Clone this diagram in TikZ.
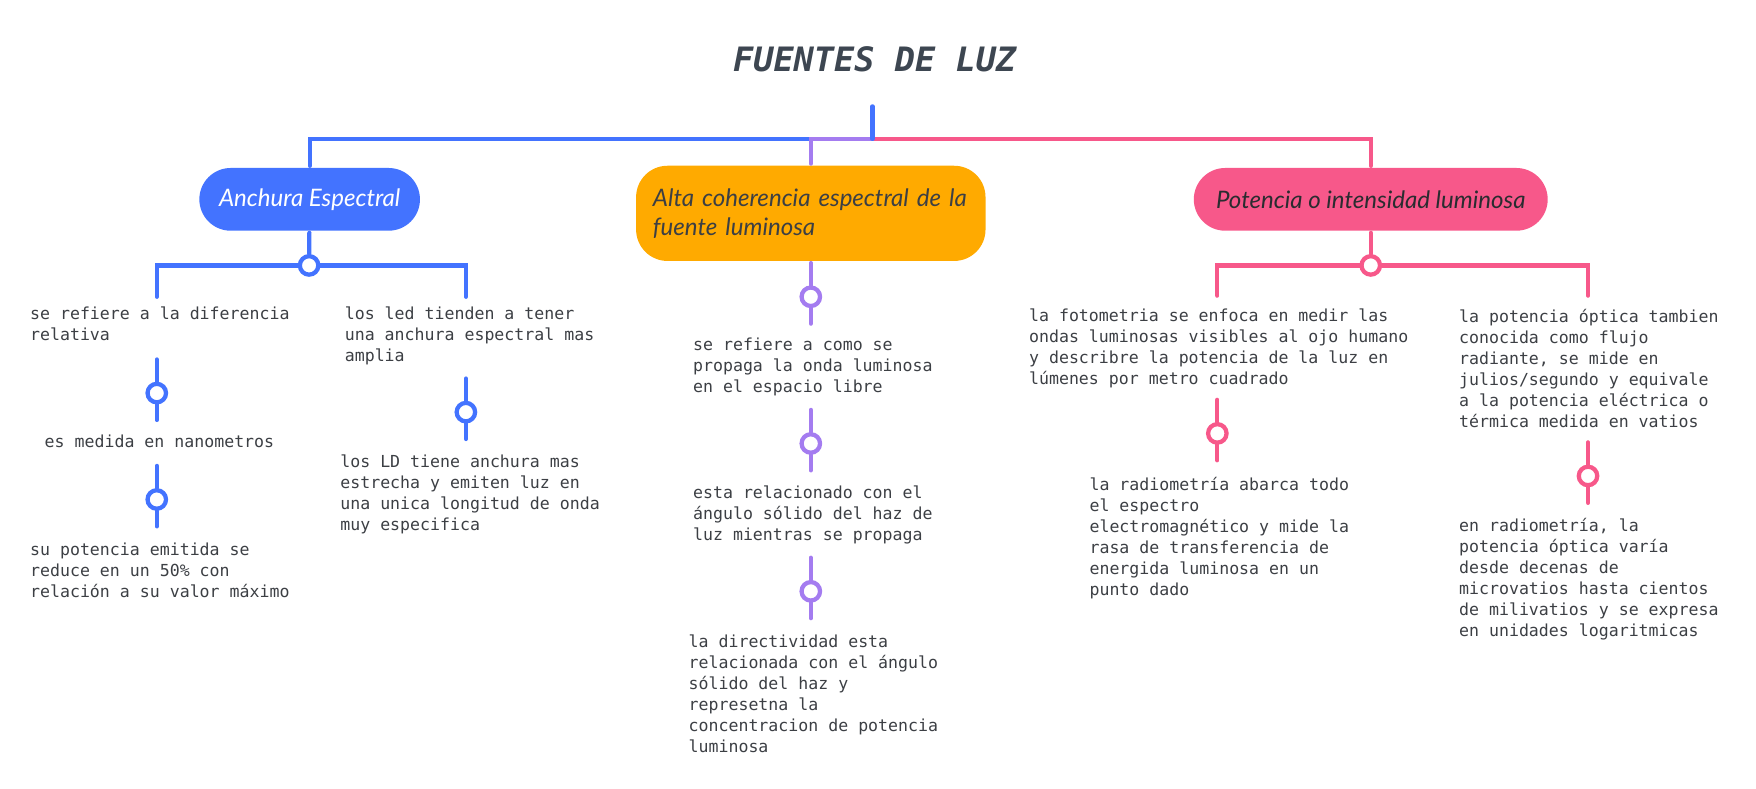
\documentclass[tikz,border=0pt]{standalone}
\usepackage{fontspec}
\newfontfamily\notefont{DejaVu Sans Mono}
\newfontfamily\titlefont{DejaVu Sans Mono}
\newfontfamily\topicfont{Lato}
\definecolor{cblue}{HTML}{4373FF}
\definecolor{cpurple}{HTML}{A47CF0}
\definecolor{cpink}{HTML}{F7588A}
\definecolor{corange}{HTML}{FFAA00}
\definecolor{ink}{HTML}{3C3F44}
\definecolor{titleink}{HTML}{3D4651}

\begin{document}
\begin{tikzpicture}[x=1pt, y=-1pt, line width=3.8pt, line cap=round]
  \tikzset{
    note/.style={anchor=north west, inner sep=0pt, align=left, text=ink,
      font=\notefont\fontsize{14.8}{18.8}\selectfont},
    topic/.style={rounded corners=28pt, inner xsep=15pt, minimum height=56pt,
      font=\topicfont\itshape\fontsize{21.5}{26}\selectfont},
    dot/.style={circle, draw, fill=white, minimum size=16.5pt, inner sep=0pt}
  }
  \useasboundingbox (0,0) rectangle (1568,704);

  % title and main branches
  \node[text=titleink, font=\titlefont\bfseries\itshape\fontsize{30}{36}\selectfont] (title) at (781,53) {FUENTES DE LUZ};
  \node[topic, fill=cblue, text=white, minimum width=197pt] (anch) at (276.5,178) {Anchura Espectral};
  \node[topic, fill=corange, text=ink, minimum height=85pt, text width=282pt, align=left] (cohe) at (724,190.5) {Alta coherencia espectral de la\\fuente luminosa};
  \node[topic, fill=cpink, text=ink!70!black, minimum width=316pt] (pot) at (1224,178) {Potencia o intensidad luminosa};

  \coordinate (root) at (779,95);
  \coordinate (split) at (779,124);
  \draw[cpink] (split) -| (pot);
  \draw[cblue] (cohe |- split) -| (anch);
  \draw[cpurple] (split) -| (cohe);
  \draw[cblue] (root) -- (split);

  % sub branches
  \node[dot, draw=cblue] (anchdot) at (276,237) {};
  \coordinate (anchl) at (140,265);
  \coordinate (anchr) at (416,265);
  \draw[cblue] (anch) -- (anchdot);
  \draw[cblue] (anchdot) -| (anchl);
  \draw[cblue] (anchdot) -| (anchr);

  \node[dot, draw=cpink] (potdot) at (1224,237) {};
  \coordinate (potl) at (1087,264);
  \coordinate (potr) at (1418,264);
  \draw[cpink] (pot) -- (potdot);
  \draw[cpink] (potdot) -| (potl);
  \draw[cpink] (potdot) -| (potr);

  \node[dot, draw=cpurple] (cohedot) at (724,265) {};
  \coordinate (coheb) at (724,289);
  \draw[cpurple] (cohe) -- (cohedot) -- (coheb);

  % connectors between notes
  \foreach \nm/\x/\y/\col in {ka/140/351/cblue, kb/140/446/cblue, kc/416/368/cblue,
                              kd/724/396/cpurple, ke/724/528/cpurple,
                              kf/1087/387/cpink, kg/1418/425/cpink} {
    \coordinate (\nm t) at (\x,\y-30);
    \coordinate (\nm b) at (\x,\y+24);
    \node[dot, draw=\col] (\nm) at (\x,\y) {};
    \draw[\col] (\nm t) -- (\nm) -- (\nm b);
  }

  % notes
  \node[note] (n1) at (25,272) {se refiere a la diferencia\\relativa};
  \node[note] (n2) at (38,386) {es medida en nanometros};
  \node[note] (n3) at (25,483) {su potencia emitida se\\reduce en un 50\% con\\relación a su valor máximo};
  \node[note] (m1) at (306,272) {los led tienden a tener\\una anchura espectral mas\\amplia};
  \node[note] (m2) at (302,404) {los LD tiene anchura mas\\estrecha y emiten luz en\\una unica longitud de onda\\muy especifica};
  \node[note] (p1) at (617,300) {se refiere a como se\\propaga la onda luminosa\\en el espacio libre};
  \node[note] (p2) at (617,432) {esta relacionado con el\\ángulo sólido del haz de\\luz mientras se propaga};
  \node[note] (p3) at (613,565) {la directividad esta\\relacionada con el ángulo\\sólido del haz y\\represetna la\\concentracion de potencia\\luminosa};
  \node[note] (q1) at (917,274) {la fotometria se enfoca en medir las\\ondas luminosas visibles al ojo humano\\y describre la potencia de la luz en\\lúmenes por metro cuadrado};
  \node[note] (q2) at (971,424) {la radiometría abarca todo\\el espectro\\electromagnético y mide la\\rasa de transferencia de\\energida luminosa en un\\punto dado};
  \node[note] (r1) at (1301,274) {la potencia óptica tambien\\conocida como flujo\\radiante, se mide en\\julios/segundo y equivale\\a la potencia eléctrica o\\térmica medida en vatios};
  \node[note] (r2) at (1301,461) {en radiometría, la\\potencia óptica varía\\desde decenas de\\microvatios hasta cientos\\de milivatios y se expresa\\en unidades logaritmicas};
\end{tikzpicture}
\end{document}
